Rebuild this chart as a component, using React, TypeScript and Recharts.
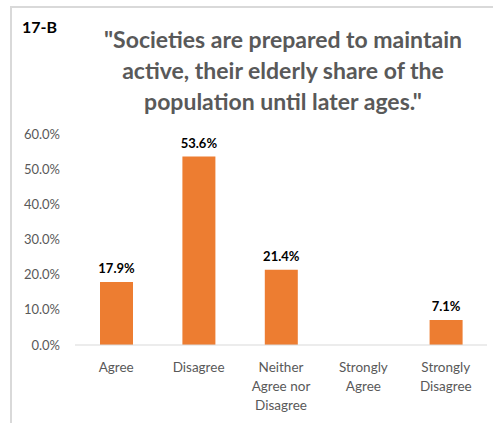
import React from "react";
import { BarChart, Bar, XAxis, YAxis, LabelList } from "recharts";

const categories = ["Agree", "Disagree", "Neither Agree nor Disagree", "Strongly Agree", "Strongly Disagree"];
const shares = [17.9, 53.6, 21.4, 0, 7.1];
const yTicks = [0, 10, 20, 30, 40, 50, 60];
const tag = "17-B";
const titleLines = [
  "\"Societies are prepared to maintain",
  "active, their elderly share of the",
  "population until later ages.\"",
];

const FONT = "Lato, 'Open Sans', sans-serif";
const GREY = "#595959";

function wrap(label: string, max = 10) {
  const lines: string[] = [];
  let cur = "";
  for (const w of label.split(" ")) {
    if (cur && (cur + " " + w).length > max) {
      lines.push(cur);
      cur = w;
    } else {
      cur = cur ? cur + " " + w : w;
    }
  }
  if (cur) lines.push(cur);
  return lines;
}

function CategoryTick({ x, y, payload }: any) {
  const lines = wrap(String(payload.value));
  return (
    <text x={x} y={y} textAnchor="middle" fill={GREY} fontSize={13.5} fontFamily={FONT}>
      {lines.map((l, i) => (
        <tspan key={i} x={x} dy={i === 0 ? 25 : 19}>
          {l}
        </tspan>
      ))}
    </text>
  );
}

export default function App() {
  const data = categories.map((c, i) => ({ name: c, value: shares[i] }));

  return (
    <div style={{ position: "fixed", left: 0, top: 0, width: 493, height: 423, background: "#fff", fontFamily: FONT }}>
      <div
        style={{
          position: "absolute",
          left: 10,
          top: 6,
          right: 0,
          bottom: 0,
          borderTop: "2px solid #d9d9d9",
          borderLeft: "2px solid #d9d9d9",
        }}
      />
      <div style={{ position: "absolute", left: 22, top: 17, fontSize: 16, fontWeight: 700, color: "#000" }}>{tag}</div>
      <div
        style={{
          position: "absolute",
          left: 75,
          width: 416,
          top: 24,
          textAlign: "center",
          fontSize: 23,
          lineHeight: "31px",
          fontWeight: 700,
          color: GREY,
        }}
      >
        {titleLines.map((l, i) => (
          <div key={i}>{l}</div>
        ))}
      </div>
      <div style={{ position: "absolute", left: 0, top: 0 }}>
        <BarChart width={493} height={423} data={data} margin={{ top: 134, right: 6, bottom: 0, left: 0 }}>
          <XAxis
            dataKey="name"
            height={78}
            interval={0}
            tickLine={false}
            tickSize={0}
            axisLine={{ stroke: "#d9d9d9", strokeWidth: 1 }}
            tick={<CategoryTick />}
          />
          <YAxis
            width={75}
            domain={[0, 60]}
            ticks={yTicks}
            axisLine={false}
            tickLine={false}
            tickSize={0}
            tickMargin={15}
            tick={{ fill: GREY, fontSize: 13, fontFamily: FONT }}
            tickFormatter={(v: number) => `${v.toFixed(1)}%`}
          />
          <Bar dataKey="value" fill="#ED7D31" barSize={33} isAnimationActive={false}>
            <LabelList
              dataKey="value"
              position="top"
              offset={9}
              fill="#000"
              fontSize={13}
              fontWeight={700}
              fontFamily={FONT}
              formatter={(v: any) => (v ? `${Number(v).toFixed(1)}%` : "")}
            />
          </Bar>
        </BarChart>
      </div>
    </div>
  );
}
